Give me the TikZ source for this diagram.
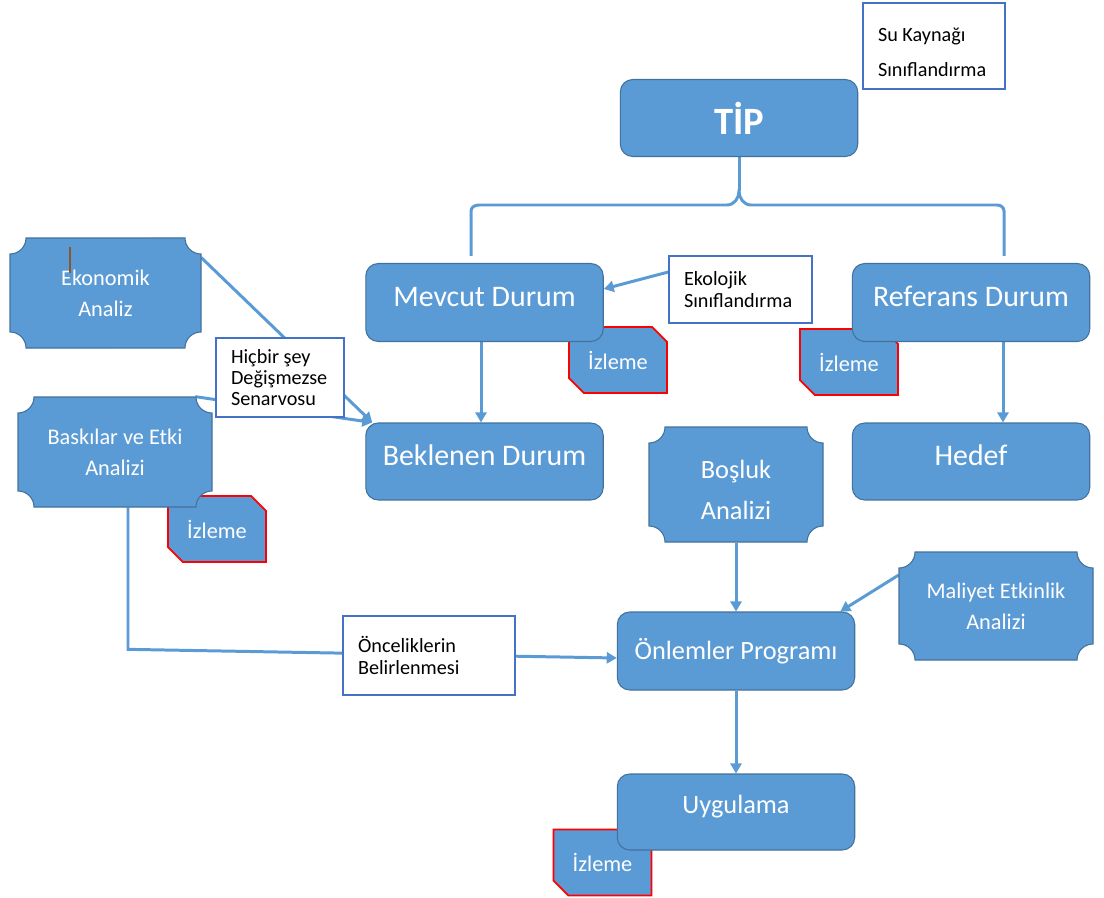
\documentclass[tikz,border=0pt]{standalone}
\usepackage{fontspec}
\setmainfont{Carlito}
\usetikzlibrary{arrows.meta,shapes.misc,backgrounds}

\definecolor{boxblue}{HTML}{5B9BD5}
\definecolor{boxedge}{HTML}{41719C}
\definecolor{noteedge}{HTML}{4472C4}
\definecolor{watchred}{HTML}{FF0000}

\tikzset{
  mainbox/.style={draw=boxedge, fill=boxblue, rounded corners=0.25cm, text=white, minimum width=4.75cm, minimum height=1.56cm, line width=0.6pt, font=\fontsize{17}{20}\selectfont},
  raised/.style={text height=0.42cm, text depth=0.28cm},
  plaque/.style={draw=boxedge, fill=boxblue, line width=0.6pt},
  plaquetext/.style={text=white, align=center, inner sep=0pt, font=\fontsize{12.7}{17.5}\selectfont},
  watchbox/.style={chamfered rectangle, chamfered rectangle corners={north east,south west}, chamfered rectangle xsep=0.2cm, draw=watchred, fill=boxblue, line width=1pt, text=white, minimum width=1.96cm, minimum height=1.32cm, inner sep=0pt, font=\fontsize{12.7}{15}\selectfont},
  notebox/.style={draw=noteedge, fill=white, align=flush left, line width=0.8pt, inner xsep=0.3cm, inner ysep=0pt, font=\fontsize{11.5}{12.5}\selectfont},
  conn/.style={draw=boxblue, line width=1.7pt},
  arr/.style={conn, -{Triangle[length=0.2cm,width=0.22cm]}}
}

\newcommand{\plaqueshape}[4]{%
  \filldraw[plaque] (#1,#4-16) arc[start angle=270,end angle=360,radius=0.32cm]
    -- (#3-16,#4) arc[start angle=180,end angle=270,radius=0.32cm]
    -- (#3,#2+16) arc[start angle=90,end angle=180,radius=0.32cm]
    -- (#1+16,#2) arc[start angle=0,end angle=90,radius=0.32cm] -- cycle;}

\begin{document}
\begin{tikzpicture}[x=0.02cm,y=0.02cm]
\useasboundingbox (0,0) rectangle (1104,897);

\node[watchbox] (iz1) at (618,537) {İzleme};
\node[watchbox] (iz2) at (849,535) {İzleme};
\node[watchbox] (iz3) at (217,368) {İzleme};
\node[watchbox] (iz4) at (602.5,34.5) {İzleme};

\node[mainbox, minimum height=1.54cm, font=\fontsize{22}{26}\bfseries] (tip) at (739,779) {TİP};
\node[mainbox, raised] (mevcut) at (484.5,594.5) {Mevcut Durum};
\node[mainbox, raised] (referans) at (971,594.5) {Referans Durum};
\node[mainbox, raised, minimum height=1.54cm] (beklenen) at (484.5,435.5) {Beklenen Durum};
\node[mainbox, raised, minimum height=1.54cm] (hedef) at (971,435.5) {Hedef};
\node[mainbox, font=\fontsize{15}{18}\selectfont] (onlemler) at (736,246) {Önlemler Programı};
\node[mainbox, minimum height=1.52cm, text height=0.34cm, text depth=0.3cm, font=\fontsize{15}{18}\selectfont] (uygulama) at (736,85) {Uygulama};

\plaqueshape{10}{549}{201}{659}
\node[plaquetext, minimum width=3.82cm, minimum height=2.2cm] (ekonomik) at (105.5,604) {Ekonomik\\Analiz};
\draw[brown!70!black, line width=0.6pt] (70,650) -- (70,624);
\plaqueshape{18}{390}{212}{500}
\node[plaquetext, minimum width=3.88cm, minimum height=2.2cm] (baskilar) at (115,445) {Baskılar ve Etki\\Analizi};
\plaqueshape{649}{355}{823}{470}
\node[plaquetext, minimum width=3.48cm, minimum height=2.3cm, font=\fontsize{15}{23}\selectfont] (bosluk) at (736,407) {Boşluk\\Analizi};
\plaqueshape{899}{237}{1093}{345}
\node[plaquetext, minimum width=3.88cm, minimum height=2.16cm] (maliyet) at (996,291) {Maliyet Etkinlik\\Analizi};

\node[notebox, text width=2.24cm, minimum height=1.72cm, font=\fontsize{11.5}{20}\selectfont] (kaynak) at (934,851) {\rule{0pt}{0.54cm}Su Kaynağı\\Sınıflandırma};
\node[notebox, text width=2.26cm, minimum height=1.34cm] (ekolojik) at (740.5,607.5) {Ekolojik\\Sınıflandırma};
\node[notebox, text width=1.96cm, minimum height=1.58cm, font=\fontsize{11.5}{12}\selectfont] (hicbir) at (280,519.5) {Hiçbir şey\\Değişmezse\\Senarvosu};
\node[notebox, text width=2.84cm, minimum height=1.58cm] (oncelik) at (429,241.5) {Önceliklerin\\Belirlenmesi};

\coordinate (bl) at (471,641);
\coordinate (br) at (1004,641);

\begin{scope}[on background layer]
\draw[conn] (bl) -- (471,686) to[out=90,in=180] (479,692) -- (727,692) to[out=0,in=270] (739,706)
  to[out=270,in=180] (751,692) -- (997,692) to[out=0,in=90] (1004,686) -- (br);
\draw[conn] (739,706) -- (tip.south);
\draw[arr] ([xshift=-0.07cm]mevcut.south) -- ([xshift=-0.07cm]beklenen.north);
\draw[arr] ([xshift=0.64cm]referans.south) -- ([xshift=0.64cm]hedef.north);
\draw[arr] ([yshift=0.35cm]ekolojik.west) -- ([yshift=0.27cm]mevcut.east);
\draw[arr] ([yshift=-0.4cm]ekonomik.north east) -- ([xshift=0.14cm]beklenen.north west);
\draw[arr] ([xshift=-0.34cm]baskilar.north east) -- ([xshift=0.14cm]beklenen.north west);
\draw[arr] ([yshift=0.1cm]bosluk.south) -- (onlemler.north);
\draw[arr] ([yshift=0.62cm]maliyet.west) -- ([xshift=-0.3cm]onlemler.north east);
\draw[arr] ([xshift=0.26cm]baskilar.south) -- ++(0,-142) -- ([yshift=-0.14cm]onlemler.west);
\draw[arr] (onlemler.south) -- (uygulama.north);
\end{scope}
\end{tikzpicture}
\end{document}
